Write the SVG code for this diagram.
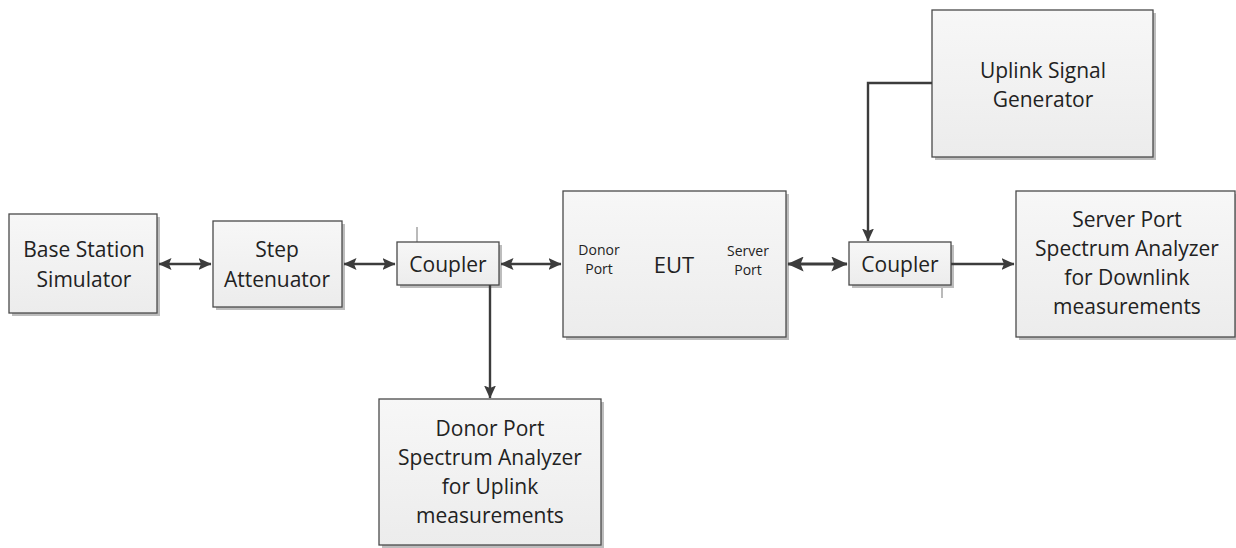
<svg xmlns="http://www.w3.org/2000/svg" width="1236" height="548" viewBox="0 0 1236 548">
<defs>
<linearGradient id="g" x1="0" y1="0" x2="0" y2="1">
<stop offset="0" stop-color="#f7f7f7"/>
<stop offset="1" stop-color="#ececec"/>
</linearGradient>
<marker id="ah" viewBox="0 0 13 12" refX="12.5" refY="6" markerWidth="13" markerHeight="12" markerUnits="userSpaceOnUse" orient="auto-start-reverse">
<path d="M0,0 L13,6 L0,12 L2.5,6 z" fill="#3c3c3c"/>
</marker>
<marker id="ahb" viewBox="0 0 13 12" refX="12.5" refY="6" markerWidth="17" markerHeight="15" markerUnits="userSpaceOnUse" orient="auto-start-reverse">
<path d="M0,0 L13,6 L0,12 L2.5,6 z" fill="#3c3c3c"/>
</marker>
</defs>
<style>
.box{fill:url(#g);stroke:#4a4a4a;stroke-width:1.3}
.sh{fill:#bdbdbd}
.t{font-family:"Open Sans","Liberation Sans",sans-serif;font-size:21px;fill:#222222;text-anchor:middle}
.s{font-size:14px}
.c{stroke:#3c3c3c;stroke-width:2.4;fill:none}
.tick{stroke:#8c8c8c;stroke-width:1.2}
</style>
<rect width="1236" height="548" fill="#ffffff"/>
<g id="base-station">
<rect class="sh" x="12" y="217" width="148" height="99"/>
<rect class="box" x="9" y="214" width="148" height="99"/>
<text class="t" x="84" y="257">Base Station</text>
<text class="t" x="84" y="287">Simulator</text>
</g>
<g id="step-attenuator">
<rect class="sh" x="216" y="224" width="129" height="86"/>
<rect class="box" x="213" y="221" width="129" height="86"/>
<text class="t" x="277" y="257">Step</text>
<text class="t" x="277" y="287">Attenuator</text>
</g>
<g id="coupler1">
<line class="tick" x1="417" y1="227" x2="417" y2="242"/>
<rect class="sh" x="400" y="245" width="102" height="43"/>
<rect class="box" x="397" y="242" width="102" height="43"/>
<text class="t" x="448" y="272">Coupler</text>
</g>
<g id="eut">
<rect class="sh" x="566" y="194" width="223" height="146"/>
<rect class="box" x="563" y="191" width="223" height="146"/>
<text class="t s" x="599" y="255">Donor</text>
<text class="t s" x="599" y="274">Port</text>
<text class="t" style="font-size:22px" x="674" y="273">EUT</text>
<text class="t s" x="748" y="256">Server</text>
<text class="t s" x="748" y="275">Port</text>
</g>
<g id="coupler2">
<line class="tick" x1="942" y1="285" x2="942" y2="298"/>
<rect class="sh" x="852" y="245" width="102" height="43"/>
<rect class="box" x="849" y="242" width="102" height="43"/>
<text class="t" x="900" y="272">Coupler</text>
</g>
<g id="server-sa">
<rect class="sh" x="1019" y="194" width="219" height="146"/>
<rect class="box" x="1016" y="191" width="219" height="146"/>
<text class="t" x="1127" y="227">Server Port</text>
<text class="t" x="1127" y="256">Spectrum Analyzer</text>
<text class="t" x="1127" y="285">for Downlink</text>
<text class="t" x="1127" y="314">measurements</text>
</g>
<g id="uplink-gen">
<rect class="sh" x="935" y="13" width="221" height="147"/>
<rect class="box" x="932" y="10" width="221" height="147"/>
<text class="t" x="1043" y="78">Uplink Signal</text>
<text class="t" x="1043" y="107">Generator</text>
</g>
<g id="donor-sa">
<rect class="sh" x="382" y="402" width="222" height="146"/>
<rect class="box" x="379" y="399" width="222" height="146"/>
<text class="t" x="490" y="436">Donor Port</text>
<text class="t" x="490" y="465">Spectrum Analyzer</text>
<text class="t" x="490" y="494">for Uplink</text>
<text class="t" x="490" y="523">measurements</text>
</g>
<g id="connectors">
<line class="c" x1="159" y1="264" x2="211" y2="264" marker-start="url(#ah)" marker-end="url(#ah)"/>
<line class="c" x1="344" y1="264" x2="395" y2="264" marker-start="url(#ah)" marker-end="url(#ah)"/>
<line class="c" x1="501" y1="264" x2="561" y2="264" marker-start="url(#ah)" marker-end="url(#ah)"/>
<line class="c" style="stroke-width:3" x1="788" y1="264" x2="847" y2="264" marker-start="url(#ahb)" marker-end="url(#ahb)"/>
<line class="c" x1="951" y1="264" x2="1014" y2="264" marker-end="url(#ah)"/>
<line class="c" x1="490" y1="285" x2="490" y2="398" marker-end="url(#ah)"/>
<polyline class="c" points="932,83 868,83 868,241" marker-end="url(#ah)"/>
</g>
</svg>
